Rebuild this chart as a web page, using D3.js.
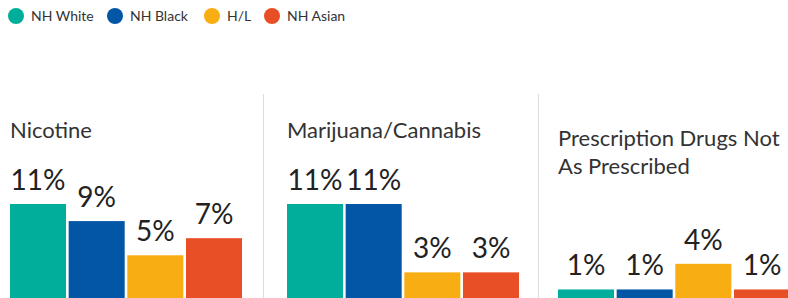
<!DOCTYPE html>
<html>
<head>
<meta charset="utf-8">
<script src="https://cdn.jsdelivr.net/npm/d3@7"></script>
<style>
  body { margin: 0; background: #fff; }
  svg { display: block; font-family: Lato, "Noto Sans", sans-serif; }
</style>
</head>
<body>
<svg id="chart"></svg>
<script>
// groups shown in the legend and in each panel
const groups = ['NH White', 'NH Black', 'H/L', 'NH Asian']
const groupColors = ['#00ae9b', '#0355a5', '#f8ae12', '#e84f26']

// substance panels
const substances = ['Nicotine', 'Marijuana/Cannabis', 'Prescription Drugs Not As Prescribed']
const titleLines = [['Nicotine'], ['Marijuana/Cannabis'], ['Prescription Drugs Not', 'As Prescribed']]

// percent values per substance, in group order
const nicotine = [0.11, 0.09, 0.05, 0.07]
const marijuana = [0.11, 0.11, 0.03, 0.03]
const prescription = [0.01, 0.01, 0.04, 0.01]
const values = [nicotine, marijuana, prescription]

const width = 788
const height = 298
const panelX = [10, 287, 558]
const panelTitleY = [138, 138, 146]
const separatorX = [263.5, 538.5]
const plotWidth = 232
const baseY = 298

const svg = d3.select('#chart')
    .attr('width', width)
    .attr('height', height)

// legend
const legend = svg.append('g')
const legendX = [16, 115, 212, 272]
const legendItem = legend.selectAll('g')
    .data(groups)
    .join('g')
    .attr('transform', (d, i) => `translate(${legendX[i]}, 16)`)

legendItem.append('circle')
    .attr('r', 8)
    .attr('fill', (d, i) => groupColors[i])

legendItem.append('text')
    .attr('x', 15)
    .attr('y', 5)
    .attr('font-size', 14)
    .attr('fill', '#333')
    .text(d => d)

// shared scales
const xScale = d3.scaleBand()
    .domain(groups)
    .range([0, plotWidth])
    .paddingInner(0.045)
    .paddingOuter(0)

const yScale = d3.scaleLinear()
    .domain([0, 0.11])
    .range([baseY, 204])

const color = d3.scaleOrdinal().domain(groups).range(groupColors)

// separators between panels
svg.selectAll('.sep')
    .data(separatorX)
    .join('line')
    .attr('class', 'sep')
    .attr('x1', d => d)
    .attr('x2', d => d)
    .attr('y1', 94)
    .attr('y2', height)
    .attr('stroke', '#dcdcdc')
    .attr('stroke-width', 1)

substances.forEach((s, p) => {
    const g = svg.append('g')
        .attr('transform', `translate(${panelX[p]}, 0)`)

    // panel title
    g.append('text')
        .attr('font-size', 22)
        .attr('fill', '#333')
        .selectAll('tspan')
        .data(titleLines[p])
        .join('tspan')
        .attr('x', 0)
        .attr('y', (d, i) => panelTitleY[p] + i * 28)
        .text(d => d)

    const rows = groups.map((grp, i) => ({group: grp, value: values[p][i]}))

    g.selectAll('.bar')
        .data(rows)
        .join('rect')
        .attr('class', 'bar')
        .attr('x', d => xScale(d.group))
        .attr('y', d => yScale(d.value))
        .attr('width', xScale.bandwidth())
        .attr('height', d => baseY - yScale(d.value))
        .attr('fill', d => color(d.group))

    g.selectAll('.bar-label')
        .data(rows)
        .join('text')
        .attr('class', 'bar-label')
        .attr('x', d => xScale(d.group) + xScale.bandwidth() / 2)
        .attr('y', d => yScale(d.value) - 14)
        .attr('text-anchor', 'middle')
        .attr('font-size', 28)
        .attr('fill', '#222')
        .text(d => d3.format('.0%')(d.value))
})
</script>
</body>
</html>
